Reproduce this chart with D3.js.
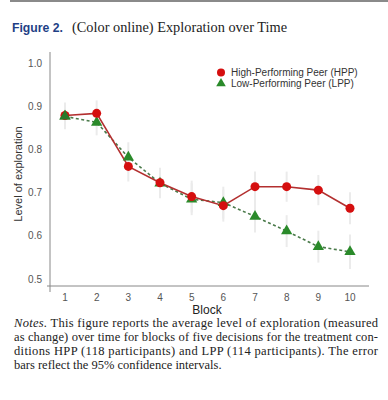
<!DOCTYPE html>
<html>
<head>
<meta charset="utf-8">
<script src="https://cdn.jsdelivr.net/npm/d3@7"></script>
<style>
  html, body { margin: 0; padding: 0; background: #fff; }
  svg { display: block; }
</style>
</head>
<body>
<svg id="chart" width="388" height="400"></svg>
<script>
const blocks = [1, 2, 3, 4, 5, 6, 7, 8, 9, 10];
const hppValues = [0.879, 0.884, 0.761, 0.723, 0.691, 0.670, 0.714, 0.714, 0.706, 0.664];
const lppValues = [0.877, 0.863, 0.782, 0.722, 0.685, 0.677, 0.645, 0.611, 0.575, 0.563];
const hppCI = [0.030, 0.030, 0.035, 0.035, 0.037, 0.037, 0.035, 0.035, 0.035, 0.037];
const lppCI = [0.030, 0.030, 0.035, 0.035, 0.037, 0.037, 0.037, 0.037, 0.037, 0.040];
const yTicks = [0.5, 0.6, 0.7, 0.8, 0.9, 1.0];
const seriesNames = ["High-Performing Peer (HPP)", "Low-Performing Peer (LPP)"];
const noteLines = [
  "This figure reports the average level of exploration (measured",
  "as change) over time for blocks of five decisions for the treatment con-",
  "ditions HPP (118 participants) and LPP (114 participants). The error",
  "bars reflect the 95% confidence intervals."
];

const svg = d3.select("#chart");
const sans = "'Liberation Sans', Arial, sans-serif";
const serif = "'Liberation Serif', 'DejaVu Serif', serif";

// top rule
svg.append("line").attr("x1", 10).attr("x2", 388).attr("y1", 1).attr("y2", 1)
  .attr("stroke", "#8a8a8a").attr("stroke-width", 2);

// title
svg.append("text").attr("x", 12).attr("y", 32)
  .attr("font-family", sans).attr("font-weight", "bold")
  .attr("font-size", 13.5).attr("fill", "#1f3f86")
  .attr("textLength", 51).attr("lengthAdjust", "spacingAndGlyphs").text("Figure 2.");
svg.append("text").attr("x", 72).attr("y", 32)
  .attr("font-family", serif).attr("font-size", 14).attr("fill", "#222")
  .attr("textLength", 215).attr("lengthAdjust", "spacingAndGlyphs")
  .text("(Color online) Exploration over Time");

const x = d3.scaleLinear().domain([1, 10]).range([65, 350]);
const y = d3.scaleLinear().domain([0.5, 1.0]).range([279, 63.3]);

// axes lines
svg.append("line").attr("x1", 50).attr("x2", 50).attr("y1", 52).attr("y2", 292)
  .attr("stroke", "#888").attr("stroke-width", 1);
svg.append("line").attr("x1", 47).attr("x2", 369).attr("y1", 286).attr("y2", 286)
  .attr("stroke", "#888").attr("stroke-width", 1);

// y tick labels
svg.append("g").selectAll("text").data(yTicks).join("text")
  .attr("x", 42).attr("y", d => y(d)).attr("dy", "0.35em")
  .attr("text-anchor", "end").attr("font-family", sans).attr("font-size", 10)
  .attr("fill", "#555").text(d => d3.format(".1f")(d));

// x tick labels
svg.append("g").selectAll("text").data(blocks).join("text")
  .attr("x", d => x(d)).attr("y", 297).attr("dy", "0.35em")
  .attr("text-anchor", "middle").attr("font-family", sans).attr("font-size", 10)
  .attr("fill", "#555").text(d => d);

// axis titles
svg.append("text").attr("transform", "translate(22,174) rotate(-90)")
  .attr("text-anchor", "middle").attr("font-family", sans).attr("font-size", 11)
  .attr("fill", "#333").text("Level of exploration");
svg.append("text").attr("x", 207).attr("y", 314)
  .attr("text-anchor", "middle").attr("font-family", sans).attr("font-size", 12)
  .attr("fill", "#222").text("Block");

// error bars
const hpp = blocks.map((b, i) => ({b, v: hppValues[i], ci: hppCI[i]}));
const lpp = blocks.map((b, i) => ({b, v: lppValues[i], ci: lppCI[i]}));
[hpp, lpp].forEach(data => {
  svg.append("g").selectAll("line").data(data).join("line")
    .attr("x1", d => x(d.b)).attr("x2", d => x(d.b))
    .attr("y1", d => y(d.v - d.ci)).attr("y2", d => y(d.v + d.ci))
    .attr("stroke", "#ebebeb").attr("stroke-width", 2);
});

const line = d3.line().x(d => x(d.b)).y(d => y(d.v));
svg.append("path").datum(lpp).attr("d", line).attr("fill", "none")
  .attr("stroke", "#4a7a4a").attr("stroke-width", 1.6).attr("stroke-dasharray", "3,2.5");
svg.append("path").datum(hpp).attr("d", line).attr("fill", "none")
  .attr("stroke", "#b33030").attr("stroke-width", 1.6);

const tri = d3.symbol().type(d3.symbolTriangle).size(55);
svg.append("g").selectAll("path").data(lpp).join("path")
  .attr("d", tri).attr("transform", d => `translate(${x(d.b)},${y(d.v)})`)
  .attr("fill", "#2a8a2a");
svg.append("g").selectAll("circle").data(hpp).join("circle")
  .attr("cx", d => x(d.b)).attr("cy", d => y(d.v)).attr("r", 4.5)
  .attr("fill", "#d50f0f");
// first LPP marker drawn on top, as in the reference
svg.append("path").datum(lpp[0]).attr("d", tri)
  .attr("transform", d => `translate(${x(d.b)},${y(d.v)})`).attr("fill", "#2a7a2a");

// legend
const leg = svg.append("g");
leg.append("circle").attr("cx", 221).attr("cy", 72.5).attr("r", 4).attr("fill", "#d50f0f");
leg.append("path").attr("d", d3.symbol().type(d3.symbolTriangle).size(40))
  .attr("transform", "translate(221,83.5)").attr("fill", "#2a8a2a");
leg.selectAll("text").data(seriesNames).join("text")
  .attr("x", 231).attr("y", (d, i) => 72.5 + i * 11).attr("dy", "0.35em")
  .attr("font-family", sans).attr("font-size", 10).attr("fill", "#333").text(d => d);

// notes
const notes = svg.append("g").attr("font-family", serif).attr("font-size", 12.5).attr("fill", "#222");
noteLines.forEach((t, i) => {
  const tx = notes.append("text").attr("x", 14).attr("y", 327 + i * 14);
  if (i === 0) {
    tx.append("tspan").attr("font-style", "italic").text("Notes.");
    tx.append("tspan").text("  " + t);
  } else {
    tx.text(t);
  }
  if (i < noteLines.length - 1) {
    tx.attr("textLength", 364).attr("lengthAdjust", "spacing");
  }
});
</script>
</body>
</html>
